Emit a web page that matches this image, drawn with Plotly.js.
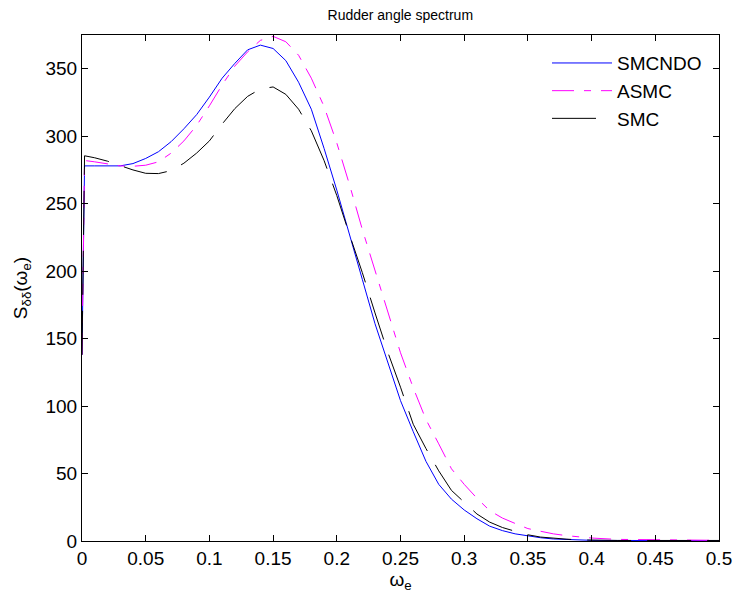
<!DOCTYPE html>
<html>
<head>
<meta charset="utf-8">
<script src="https://cdn.plot.ly/plotly-3.0.1.min.js"></script>
<style>html,body{margin:0;padding:0;background:#fff;}#chart{width:736px;height:597px;}</style>
</head>
<body>
<div id="chart"></div>
<script>
const omega = [0, 0.002, 0.01, 0.02, 0.03, 0.04, 0.05, 0.06, 0.07, 0.08, 0.09,
  0.1, 0.11, 0.12, 0.13, 0.14, 0.15, 0.16, 0.17, 0.18, 0.19,
  0.2, 0.21, 0.22, 0.23, 0.24, 0.25, 0.26, 0.27, 0.28, 0.29,
  0.3, 0.31, 0.32, 0.33, 0.34, 0.35, 0.36, 0.37, 0.38, 0.39,
  0.4, 0.42, 0.44, 0.46, 0.48, 0.5];

const smcndo = [138, 278, 278, 278, 278, 279.7, 283.5, 288.5, 296, 305.5, 316,
  329, 343, 354, 364, 367.5, 365, 356, 340, 320, 291,
  260, 226, 194, 161, 132, 104, 81, 59, 42, 31,
  23, 16.5, 11, 7.7, 5.3, 3.6, 2.4, 1.5, 1.0, 0.7,
  0.5, 0.4, 0.3, 0.3, 0.3, 0.3];

const asmc = [138, 282, 281, 279.5, 278, 277.7, 278.5, 281, 287.5, 296.5, 308,
  322.5, 338, 352, 362.5, 371, 374, 370, 360, 343, 322,
  295, 264, 231, 200, 169, 139.5, 113.5, 90, 72, 53.5,
  42, 31.7, 22.5, 17, 13, 9.2, 7.2, 5.3, 4, 3.2,
  2.2, 1.2, 1.1, 0.8, 0.6, 0.5];

const smc = [138, 285.5, 284, 281.5, 278.2, 275, 272.5, 272.3, 274.5, 280, 287.5,
  296.5, 309, 320.5, 329.5, 335, 336.5, 331, 320, 304, 282,
  256, 227, 199, 169, 140, 114, 86.5, 68.5, 52, 37.5,
  28.5, 20, 14, 10, 7.2, 4.6, 2.9, 2, 1.4, 0.8,
  0.5, 0.4, 0.4, 0.4, 0.4, 0.4];

const seriesNames = ['SMCNDO', 'ASMC', 'SMC'];
const xTicks = [0, 0.05, 0.1, 0.15, 0.2, 0.25, 0.3, 0.35, 0.4, 0.45, 0.5];
const xTickText = ['0', '0.05', '0.1', '0.15', '0.2', '0.25', '0.3', '0.35', '0.4', '0.45', '0.5'];
const yTicks = [0, 50, 100, 150, 200, 250, 300, 350];

const FONT = 'Liberation Sans, Arial, Helvetica, sans-serif';

const traces = [
  {x: omega, y: smcndo, name: seriesNames[0], mode: 'lines', type: 'scatter',
   line: {color: '#0000ff', width: 1}},
  {x: omega, y: asmc, name: seriesNames[1], mode: 'lines', type: 'scatter',
   line: {color: '#ff00ff', width: 1, dash: '22px,10px,7px,10px'}},
  {x: omega, y: smc, name: seriesNames[2], mode: 'lines', type: 'scatter',
   line: {color: '#000000', width: 1, dash: '44px,16px'}}
];

const axisCommon = {
  showline: true, linecolor: '#000', linewidth: 1, mirror: 'ticks',
  ticks: 'inside', ticklen: 6, tickcolor: '#000', tickwidth: 1,
  showgrid: false, zeroline: false,
  tickfont: {family: FONT, size: 19, color: '#000'}
};

const layout = {
  width: 736, height: 597,
  margin: {l: 82, r: 17, t: 35, b: 56},
  paper_bgcolor: '#fff', plot_bgcolor: '#fff',
  font: {family: FONT, color: '#000'},
  title: {text: 'Rudder angle spectrum', font: {family: FONT, size: 14, color: '#000'},
          x: 0.5439, xanchor: 'center', y: 0.975, yanchor: 'middle'},
  xaxis: Object.assign({}, axisCommon, {
    range: [0, 0.5], tickvals: xTicks, ticktext: xTickText,
    title: {text: 'ω<sub>e</sub>', font: {family: FONT, size: 19, color: '#000'}, standoff: 0}
  }),
  yaxis: Object.assign({}, axisCommon, {
    range: [0, 375], tickvals: yTicks,
    title: {text: 'S<sub>δδ</sub>(ω<sub>e</sub>)', font: {family: FONT, size: 19, color: '#000'}, standoff: 12}
  }),
  showlegend: true,
  legend: {x: 0.73, xanchor: 'left', y: 0.982, yanchor: 'top',
           bgcolor: 'rgba(255,255,255,0)', borderwidth: 0,
           font: {family: FONT, size: 19, color: '#000'},
           itemwidth: 60, tracegroupgap: 0}
};

Plotly.newPlot('chart', traces, layout, {displayModeBar: false, staticPlot: true});
</script>
</body>
</html>
